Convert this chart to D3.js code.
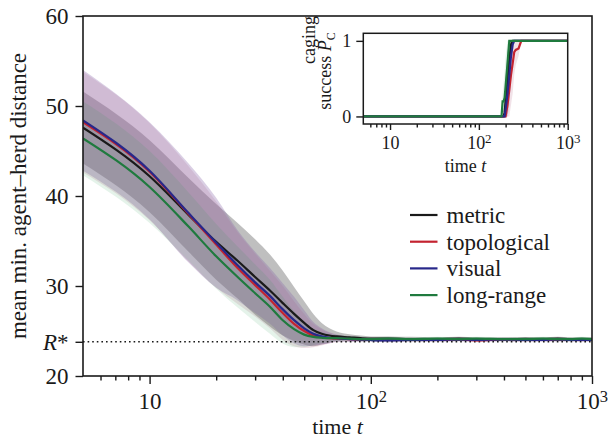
<!DOCTYPE html>
<html>
<head>
<meta charset="utf-8">
<script src="https://d3js.org/d3.v7.min.js"></script>
<style>
  body { margin: 0; background: #fff; }
  svg text { font-family: "Liberation Serif", "DejaVu Serif", serif; fill: #1a1a1a; }
  .axis .domain { display: none; }
  .axis .tick line { stroke: #1a1a1a; stroke-width: 1.4px; }
</style>
</head>
<body>
<svg width="608" height="438"></svg>
<script>
// ---- main panel data: mean min. agent-herd distance over time ----
const times = [5, 10, 15, 20, 25, 30, 35, 40, 45, 50, 55, 60, 65, 70, 80, 90, 100,
  120, 150, 200, 250, 300, 400, 500, 600, 700, 800, 900, 1000];

const metricMean = [47.6, 42.2, 37.9, 34.9, 32.8, 31.0, 29.5, 28.1, 26.9, 25.9, 25.1, 24.7, 24.5, 24.4, 24.3, 24.2, 24.15,
  24.15, 24.1, 24.1, 24.15, 24.1, 24.1, 24.12, 24.1, 24.15, 24.1, 24.1, 24.1];
const topoMean = [48.2, 42.7, 38.0, 34.6, 32.0, 30.1, 28.5, 27.0, 25.8, 25.0, 24.5, 24.3, 24.2, 24.15, 24.1, 24.05, 24.05,
  24.0, 24.05, 24.0, 24.05, 23.95, 24.05, 24.0, 24.05, 24.0, 24.05, 24.0, 24.05];
const visualMean = [48.4, 42.8, 38.1, 34.8, 32.3, 30.4, 28.9, 27.4, 26.2, 25.3, 24.7, 24.4, 24.25, 24.2, 24.1, 24.05, 24.0,
  23.95, 24.0, 24.0, 24.05, 24.0, 24.05, 24.0, 24.0, 24.05, 24.0, 24.0, 24.0];
const longMean = [46.4, 41.0, 36.6, 33.3, 31.0, 29.2, 27.7, 26.2, 25.2, 24.6, 24.35, 24.25, 24.2, 24.2, 24.15, 24.1, 24.1,
  24.15, 24.1, 24.15, 24.1, 24.15, 24.1, 24.1, 24.15, 24.1, 24.1, 24.15, 24.1];

// spread (std) around each mean
const metricSd = [4.0, 4.0, 4.1, 4.2, 4.2, 4.2, 4.0, 3.6, 3.0, 2.4, 1.8, 1.2, 0.8, 0.55, 0.35, 0.3, 0.25,
  0.25, 0.25, 0.2, 0.2, 0.2, 0.2, 0.2, 0.2, 0.2, 0.2, 0.2, 0.2];
const topoSd = [5.6, 5.4, 5.3, 4.8, 4.0, 3.5, 3.2, 3.0, 2.5, 1.9, 1.3, 0.9, 0.6, 0.4, 0.3, 0.25, 0.2,
  0.2, 0.2, 0.2, 0.2, 0.2, 0.2, 0.2, 0.2, 0.2, 0.2, 0.2, 0.2];
const visualSd = [5.6, 5.4, 5.5, 5.0, 3.9, 3.4, 3.1, 2.9, 2.6, 2.0, 1.3, 0.9, 0.6, 0.4, 0.3, 0.25, 0.2,
  0.2, 0.2, 0.2, 0.2, 0.2, 0.2, 0.2, 0.2, 0.2, 0.2, 0.2, 0.2];
const longSd = [4.1, 4.0, 3.8, 3.6, 3.4, 3.2, 3.0, 2.6, 2.0, 1.4, 0.9, 0.6, 0.45, 0.35, 0.3, 0.25, 0.2,
  0.2, 0.2, 0.2, 0.2, 0.2, 0.2, 0.2, 0.2, 0.2, 0.2, 0.2, 0.2];

const rStar = 23.8;
const yTicks = [20, 30, 40, 50, 60];
const xMajor = [10, 100, 1000];
const xMinor = [6, 7, 8, 9, 20, 30, 40, 50, 60, 70, 80, 90, 200, 300, 400, 500, 600, 700, 800, 900];

// ---- inset data: caging success P_C ----
const capTimes = [5, 180, 185, 190, 195, 200, 210, 220, 230, 240, 250, 260, 280, 300, 1000];
const metricCap = [0, 0, 0, 0, 0.05, 0.2, 0.5, 0.75, 0.95, 1, 1, 1, 1, 1, 1];
const topoCap = [0, 0, 0, 0, 0, 0, 0.15, 0.35, 0.55, 0.7, 0.85, 0.88, 0.9, 1, 1];
const visualCap = [0, 0, 0, 0, 0, 0.1, 0.3, 0.55, 0.8, 0.95, 1, 1, 1, 1, 1];
const longCap = [0, 0, 0.2, 0.2, 0.25, 0.4, 0.7, 1, 1, 1, 1, 1, 1, 1, 1];
const metricCapSd = [0, 0, 0, 0.1, 0.2, 0.3, 0.35, 0.3, 0.15, 0, 0, 0, 0, 0, 0];
const topoCapSd = [0, 0, 0, 0, 0.1, 0.2, 0.3, 0.35, 0.4, 0.4, 0.3, 0.2, 0.1, 0, 0];
const visualCapSd = [0, 0, 0, 0, 0.1, 0.25, 0.35, 0.4, 0.3, 0.15, 0, 0, 0, 0, 0];
const longCapSd = [0, 0, 0.1, 0.25, 0.35, 0.4, 0.35, 0.2, 0, 0, 0, 0, 0, 0, 0];

const labels = ["metric", "topological", "visual", "long-range"];
const lineColors = ["#1a1a1a", "#c42330", "#28288a", "#1f7a3e"];
const bandColors = ["#606060", "#b06080", "#8560a5", "#2a9a50"];
const bandOpacity = [0.4, 0.18, 0.3, 0.12];

const series = [
  { mean: metricMean, sd: metricSd, cap: metricCap, capSd: metricCapSd },
  { mean: topoMean, sd: topoSd, cap: topoCap, capSd: topoCapSd },
  { mean: visualMean, sd: visualSd, cap: visualCap, capSd: visualCapSd },
  { mean: longMean, sd: longSd, cap: longCap, capSd: longCapSd }
];

const svg = d3.select("svg");
const fmtPow = (g, fs) => {
  g.selectAll(".tick text").each(function(d) {
    const t = d3.select(this).text("");
    if (d === 10) { t.text("10"); return; }
    t.append("tspan").text("10");
    t.append("tspan").attr("dy", "-0.42em").attr("font-size", fs * 0.72 + "px")
      .text(Math.round(Math.log10(d)));
  });
};

// ---------- main panel ----------
const M = { left: 83, right: 592, top: 16, bottom: 376 };
const x = d3.scaleLog().domain([5, 1000]).range([M.left, M.right]);
const y = d3.scaleLinear().domain([20, 60]).range([M.bottom, M.top]);

svg.append("clipPath").attr("id", "clipMain").append("rect")
  .attr("x", M.left).attr("y", M.top).attr("width", M.right - M.left).attr("height", M.bottom - M.top);

const plot = svg.append("g").attr("clip-path", "url(#clipMain)");

series.forEach((s, i) => {
  const area = d3.area()
    .x((d, k) => x(times[k]))
    .y0((d, k) => y(s.mean[k] - s.sd[k]))
    .y1((d, k) => y(s.mean[k] + s.sd[k]))
    .curve(d3.curveMonotoneX);
  plot.append("path").datum(times).attr("d", area)
    .attr("fill", bandColors[i]).attr("fill-opacity", bandOpacity[i]);
});

plot.append("line")
  .attr("x1", M.left).attr("x2", M.right).attr("y1", y(rStar)).attr("y2", y(rStar))
  .attr("stroke", "#1a1a1a").attr("stroke-width", 1.6).attr("stroke-dasharray", "1.6,3");

series.forEach((s, i) => {
  const line = d3.line().x((d, k) => x(times[k])).y((d, k) => y(s.mean[k]))
    .curve(d3.curveMonotoneX);
  plot.append("path").datum(times).attr("d", line)
    .attr("fill", "none").attr("stroke", lineColors[i]).attr("stroke-width", 2.2);
});

svg.append("rect").attr("x", M.left).attr("y", M.top)
  .attr("width", M.right - M.left).attr("height", M.bottom - M.top)
  .attr("fill", "none").attr("stroke", "#1a1a1a").attr("stroke-width", 1.6);

// x axis
const gx = svg.append("g").attr("class", "axis").attr("transform", `translate(0,${M.bottom})`)
  .call(d3.axisBottom(x).tickValues(xMajor).tickSize(8).tickPadding(8.5));
gx.selectAll(".tick text").attr("font-size", "23px");
fmtPow(gx, 23);
svg.append("g").attr("class", "axis").attr("transform", `translate(0,${M.bottom})`)
  .call(d3.axisBottom(x).tickValues(xMinor).tickSize(4.5).tickFormat(""));

// y axis
const gy = svg.append("g").attr("class", "axis").attr("transform", `translate(${M.left},0)`)
  .call(d3.axisLeft(y).tickValues(yTicks.concat([rStar])).tickSize(7.5).tickPadding(7)
    .tickFormat(d => d === rStar ? "" : d));
gy.selectAll(".tick text").attr("font-size", "23px");
gy.selectAll(".tick").filter(d => d === rStar).select("text")
  .call(t => {
    t.append("tspan").attr("font-style", "italic").text("R");
    t.append("tspan").text("*");
  });

svg.append("text").attr("x", (M.left + M.right) / 2).attr("y", 433.5)
  .attr("text-anchor", "middle").attr("font-size", "22px")
  .call(t => { t.append("tspan").text("time "); t.append("tspan").attr("font-style", "italic").text("t"); });

svg.append("text").attr("transform", `translate(26,${(M.top + M.bottom) / 2}) rotate(-90)`)
  .attr("text-anchor", "middle").attr("font-size", "23px")
  .text("mean min. agent\u2013herd distance");

// legend
const legend = svg.append("g");
labels.forEach((lab, i) => {
  const ly = 215 + i * 26.7;
  legend.append("line").attr("x1", 410).attr("x2", 437.5).attr("y1", ly).attr("y2", ly)
    .attr("stroke", lineColors[i]).attr("stroke-width", 2.2);
  legend.append("text").attr("x", 446.5).attr("y", ly + 8).attr("font-size", "23px").text(lab);
});

// ---------- inset ----------
const I = { left: 363.3, right: 567.7, top: 33.3, bottom: 124 };
const xi = d3.scaleLog().domain([5, 1000]).range([I.left, I.right]);
const yi = d3.scaleLinear().domain([-0.1, 1.1]).range([I.bottom, I.top]);

svg.append("rect").attr("x", I.left).attr("y", I.top)
  .attr("width", I.right - I.left).attr("height", I.bottom - I.top).attr("fill", "#fff");

svg.append("clipPath").attr("id", "clipInset").append("rect")
  .attr("x", I.left).attr("y", I.top).attr("width", I.right - I.left).attr("height", I.bottom - I.top);
const inset = svg.append("g").attr("clip-path", "url(#clipInset)");

series.forEach((s, i) => {
  const area = d3.area()
    .x((d, k) => xi(capTimes[k]))
    .y0((d, k) => yi(Math.max(0, s.cap[k] - s.capSd[k])))
    .y1((d, k) => yi(Math.min(1, s.cap[k] + s.capSd[k])));
  inset.append("path").datum(capTimes).attr("d", area)
    .attr("fill", bandColors[i]).attr("fill-opacity", bandOpacity[i]);
});
series.forEach((s, i) => {
  const line = d3.line().x((d, k) => xi(capTimes[k])).y((d, k) => yi(s.cap[k]));
  inset.append("path").datum(capTimes).attr("d", line)
    .attr("fill", "none").attr("stroke", lineColors[i]).attr("stroke-width", 2.2);
});

svg.append("rect").attr("x", I.left).attr("y", I.top)
  .attr("width", I.right - I.left).attr("height", I.bottom - I.top)
  .attr("fill", "none").attr("stroke", "#1a1a1a").attr("stroke-width", 1.5);

const gxi = svg.append("g").attr("class", "axis").attr("transform", `translate(0,${I.bottom})`)
  .call(d3.axisBottom(xi).tickValues(xMajor).tickSize(6).tickPadding(6));
gxi.selectAll(".tick text").attr("font-size", "18px");
fmtPow(gxi, 18);
svg.append("g").attr("class", "axis").attr("transform", `translate(0,${I.bottom})`)
  .call(d3.axisBottom(xi).tickValues(xMinor).tickSize(3.5).tickFormat(""));
const gyi = svg.append("g").attr("class", "axis").attr("transform", `translate(${I.left},0)`)
  .call(d3.axisLeft(yi).tickValues([0, 1]).tickSize(7).tickPadding(5).tickFormat(d3.format("d")));
gyi.selectAll(".tick text").attr("font-size", "18px");

svg.append("text").attr("x", (I.left + I.right) / 2).attr("y", 172)
  .attr("text-anchor", "middle").attr("font-size", "18px")
  .call(t => { t.append("tspan").text("time "); t.append("tspan").attr("font-style", "italic").text("t"); });

svg.append("text").attr("transform", "translate(315,40) rotate(-90)")
  .attr("text-anchor", "middle").attr("font-size", "18px").text("caging");
svg.append("text").attr("transform", "translate(331,71) rotate(-90)")
  .attr("text-anchor", "middle").attr("font-size", "18px")
  .call(t => {
    t.append("tspan").text("success ");
    t.append("tspan").attr("font-style", "italic").text("P");
    t.append("tspan").attr("dy", "0.3em").attr("font-size", "12px").text("C");
  });
</script>
</body>
</html>
